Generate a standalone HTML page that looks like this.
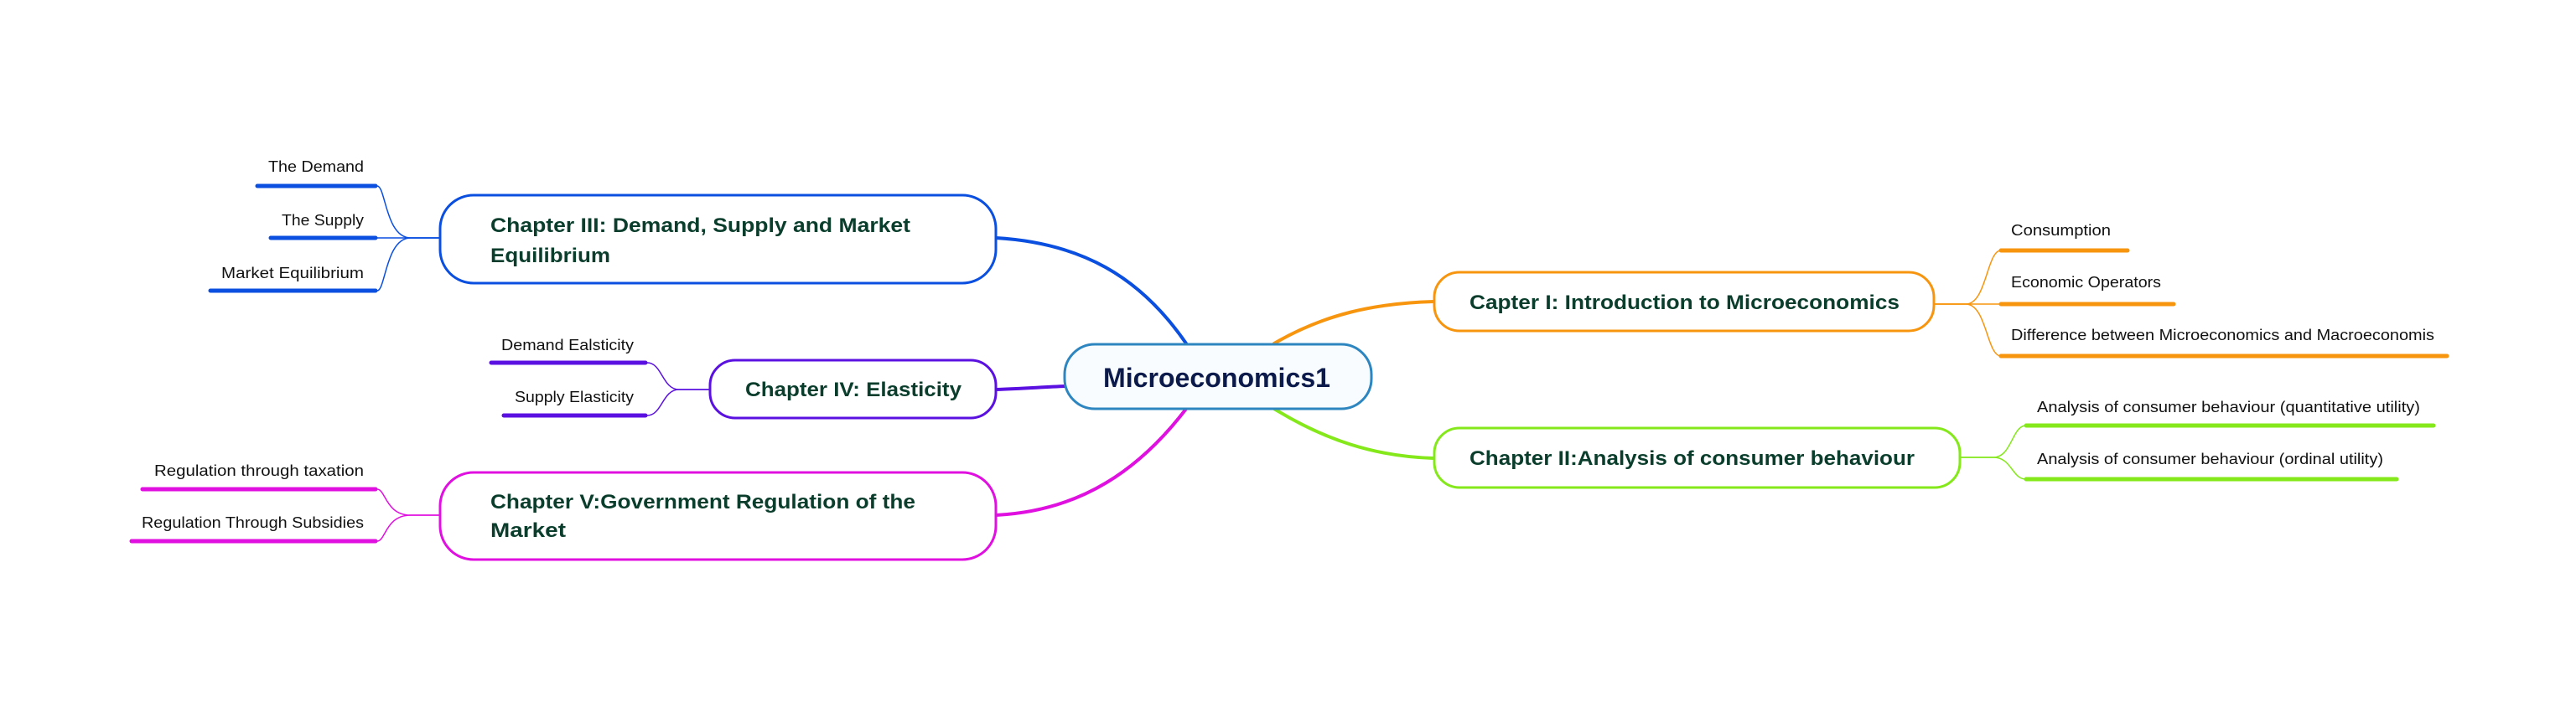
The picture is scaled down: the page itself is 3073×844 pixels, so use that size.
<!DOCTYPE html>
<html><head><meta charset="utf-8"><style>
html,body{margin:0;padding:0;background:#fff;}
svg{display:block;}
text{font-family:"Liberation Sans",sans-serif;}
.ch{font-weight:bold;font-size:24px;fill:#0a3d2c;}
.c{font-size:18px;fill:#111;}
</style></head><body>
<svg width="3073" height="844" viewBox="0 0 3073 844" xmlns="http://www.w3.org/2000/svg">
<g fill="none" stroke-linecap="round">
<!-- main connectors -->
<path d="M1188 284 C1290 290 1360 330 1415 410" stroke="#0a4fe0" stroke-width="4"/>
<path d="M1188 465 C1220 464 1245 462 1272 461" stroke="#5a10e0" stroke-width="4"/>
<path d="M1188 615 C1290 610 1360 560 1415 488" stroke="#e010e0" stroke-width="4"/>
<path d="M1520 410 C1580 375 1640 362 1710 360" stroke="#f7950f" stroke-width="4"/>
<path d="M1520 488 C1580 525 1640 545 1710 547" stroke="#84e81a" stroke-width="4"/>
<!-- blue children -->
<g stroke="#0a4fe0" stroke-width="1.5">
<path d="M524 284 H490 C460 284 460 222 450 222"/>
<path d="M524 284 H450"/>
<path d="M524 284 H490 C460 284 460 347 450 347"/>
</g>
<g stroke="#0a4fe0" stroke-width="5">
<path d="M307 222 H448"/><path d="M323 284 H448"/><path d="M251 347 H448"/>
</g>
<!-- purple children -->
<g stroke="#5a10e0" stroke-width="1.5">
<path d="M846 465 H810 C790 465 790 433 772 433"/>
<path d="M846 465 H810 C790 465 790 496 772 496"/>
</g>
<g stroke="#5a10e0" stroke-width="5">
<path d="M586 433 H770"/><path d="M601 496 H770"/>
</g>
<!-- magenta children -->
<g stroke="#e010e0" stroke-width="1.5">
<path d="M524 615 H490 C460 615 460 584 450 584"/>
<path d="M524 615 H490 C460 615 460 646 450 646"/>
</g>
<g stroke="#e010e0" stroke-width="5">
<path d="M170 584 H448"/><path d="M157 646 H448"/>
</g>
<!-- orange children -->
<g stroke="#f7950f" stroke-width="1.5">
<path d="M2307 363 H2345 C2370 363 2370 299 2387 299"/>
<path d="M2307 363 H2387"/>
<path d="M2307 363 H2345 C2370 363 2370 425 2387 425"/>
</g>
<g stroke="#f7950f" stroke-width="5">
<path d="M2387 299 H2538"/><path d="M2387 363 H2593"/><path d="M2387 425 H2919"/>
</g>
<!-- green children -->
<g stroke="#84e81a" stroke-width="1.5">
<path d="M2338 546 H2378 C2400 546 2400 508 2417 508"/>
<path d="M2338 546 H2378 C2400 546 2400 572 2417 572"/>
</g>
<g stroke="#84e81a" stroke-width="5">
<path d="M2417 508 H2903"/><path d="M2417 572 H2859"/>
</g>
</g>
<!-- boxes -->
<rect x="1270" y="411" width="366" height="77" rx="36" fill="#f8fcfe" stroke="#2e86c1" stroke-width="3"/>
<rect x="525" y="233" width="663" height="105" rx="40" fill="#fff" stroke="#0a4fe0" stroke-width="3"/>
<rect x="847" y="430" width="341" height="69" rx="30" fill="#fff" stroke="#5a10e0" stroke-width="3"/>
<rect x="525" y="564" width="663" height="104" rx="40" fill="#fff" stroke="#e010e0" stroke-width="3"/>
<rect x="1711" y="325" width="596" height="70" rx="30" fill="#fff" stroke="#f7950f" stroke-width="3"/>
<rect x="1711" y="511" width="627" height="71" rx="30" fill="#fff" stroke="#84e81a" stroke-width="3"/>
<!-- texts -->
<text x="1316" y="462" font-size="32" font-weight="bold" fill="#0b1a4a" textLength="271" lengthAdjust="spacingAndGlyphs">Microeconomics1</text>
<text class="ch" x="585" y="277" textLength="501" lengthAdjust="spacingAndGlyphs">Chapter III: Demand, Supply and Market</text>
<text class="ch" x="585" y="313" textLength="143" lengthAdjust="spacingAndGlyphs">Equilibrium</text>
<text class="ch" x="889" y="473" textLength="258" lengthAdjust="spacingAndGlyphs">Chapter IV: Elasticity</text>
<text class="ch" x="585" y="607" textLength="507" lengthAdjust="spacingAndGlyphs">Chapter V:Government Regulation of the</text>
<text class="ch" x="585" y="641" textLength="90" lengthAdjust="spacingAndGlyphs">Market</text>
<text class="ch" x="1753" y="369" textLength="513" lengthAdjust="spacingAndGlyphs">Capter I: Introduction to Microeconomics</text>
<text class="ch" x="1753" y="555" textLength="531" lengthAdjust="spacingAndGlyphs">Chapter II:Analysis of consumer behaviour</text>
<text class="c" x="320" y="205" textLength="114" lengthAdjust="spacingAndGlyphs">The Demand</text>
<text class="c" x="336" y="269" textLength="98" lengthAdjust="spacingAndGlyphs">The Supply</text>
<text class="c" x="264" y="332" textLength="170" lengthAdjust="spacingAndGlyphs">Market Equilibrium</text>
<text class="c" x="598" y="418" textLength="158" lengthAdjust="spacingAndGlyphs">Demand Ealsticity</text>
<text class="c" x="614" y="480" textLength="142" lengthAdjust="spacingAndGlyphs">Supply Elasticity</text>
<text class="c" x="184" y="568" textLength="250" lengthAdjust="spacingAndGlyphs">Regulation through taxation</text>
<text class="c" x="169" y="630" textLength="265" lengthAdjust="spacingAndGlyphs">Regulation Through Subsidies</text>
<text class="c" x="2399" y="281" textLength="119" lengthAdjust="spacingAndGlyphs">Consumption</text>
<text class="c" x="2399" y="343" textLength="179" lengthAdjust="spacingAndGlyphs">Economic Operators</text>
<text class="c" x="2399" y="406" textLength="505" lengthAdjust="spacingAndGlyphs">Difference between Microeconomics and Macroeconomis</text>
<text class="c" x="2430" y="492" textLength="457" lengthAdjust="spacingAndGlyphs">Analysis of consumer behaviour (quantitative utility)</text>
<text class="c" x="2430" y="554" textLength="413" lengthAdjust="spacingAndGlyphs">Analysis of consumer behaviour (ordinal utility)</text>
</svg>
</body></html>
